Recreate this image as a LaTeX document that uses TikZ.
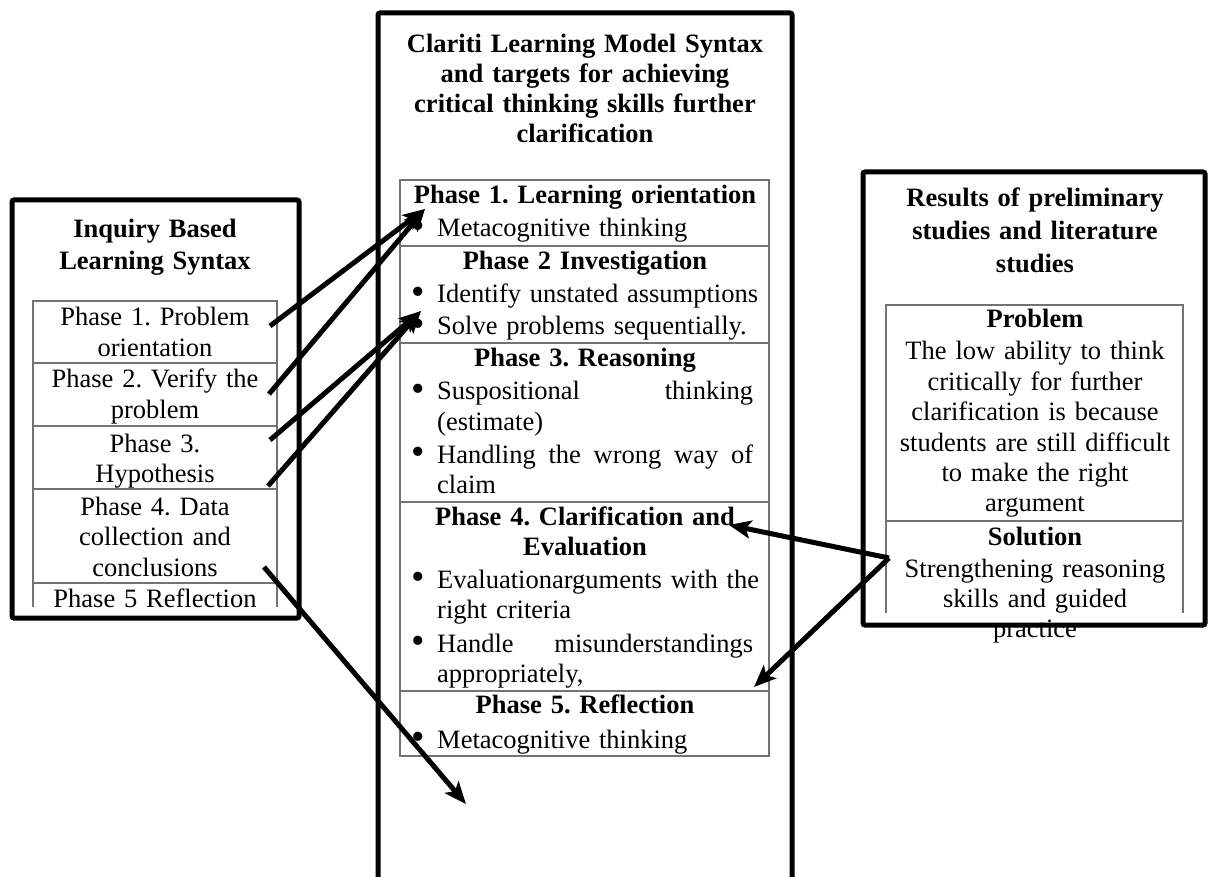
\documentclass[tikz,border=0pt]{standalone}
\usepackage{fontspec}
\usepackage{graphicx}
\setmainfont{Liberation Serif}
\usetikzlibrary{arrows.meta}

\tikzset{
  frame/.style={line width=5pt, rounded corners=2pt},
  rule/.style={draw=black!55, line width=1.3pt},
  txt/.style={inner sep=0pt, anchor=base, align=center, text width=#1,
    font=\fontsize{26.5}{30.5}\selectfont\frenchspacing},
  txt/.default=300pt,
  hd/.style={txt=#1, font=\fontsize{26.5}{30.5}\selectfont\bfseries\frenchspacing},
  hd/.default=360pt,
  entry/.style={inner sep=0pt, anchor=base west, text width=330pt, align=left,
    font=\fontsize{26.5}{30.5}\selectfont\frenchspacing},
  link/.style={line width=5pt, -{Stealth[length=22pt,width=18pt,inset=5pt]}}
}
% bullet hung in the left margin of an item
\newcommand{\bul}{\leavevmode\llap{\raisebox{-1.5pt}{\scalebox{1.45}{\textbullet}}\hspace{12.5pt}}}
% a line spread over the full item width
\newcommand{\fullline}[1]{\hbox to 316pt{#1}}

\begin{document}
\begin{tikzpicture}[x=1pt,y=-1pt]
\useasboundingbox (0,0) rectangle (1211,877);

% ---------- left column: inquiry based learning ----------
\node[hd=260pt, font=\fontsize{26.5}{32}\selectfont\bfseries] (ltitle) at (155,238) {Inquiry Based\\Learning Syntax};
\draw[rule] (33,607) -- (33,301) -- (277,301) -- (277,607);
\foreach \yy in {363,426,489,583} \draw[rule] (33,\yy) -- (277,\yy);
\node[txt=244pt] (l1) at (155,326) {Phase 1. Problem\\orientation};
\node[txt=244pt] (l2) at (155,388) {Phase 2. Verify the\\problem};
\node[txt=244pt] (l3) at (155,452) {Phase 3.\\Hypothesis};
\node[txt=244pt] (l4) at (155,515) {Phase 4. Data\\collection and\\conclusions};
\node[txt=244pt] (l5) at (155,607) {Phase 5 Reflection};

% ---------- middle column: clariti syntax ----------
\node[hd=400pt, font=\fontsize{26.5}{29.7}\selectfont\bfseries] (ctitle) at (585,53)
  {Clariti Learning Model Syntax\\and targets for achieving\\critical thinking skills further\\clarification};
\draw[rule] (400,180) rectangle (769,756);
\foreach \yy in {246,343,502,691} \draw[rule] (400,\yy) -- (769,\yy);
\node[hd] (h1) at (585,204) {Phase 1. Learning orientation};
\node[entry] (i1) at (437,237) {\bul Metacognitive thinking};
\node[hd] (h2) at (585,270) {Phase 2 Investigation};
\node[entry] (i2a) at (437,303) {\bul Identify unstated assumptions};
\node[entry] (i2b) at (437,335) {\bul Solve problems sequentially.};
\node[hd] (h3) at (585,367) {Phase 3. Reasoning};
\node[entry] (i3a) at (437,400) {\bul\fullline{Suspositional\hfill thinking}\\(estimate)};
\node[entry] (i3b) at (437,463) {\bul\fullline{Handling\hfill the\hfill wrong\hfill way\hfill of}\\claim};
\node[hd] (h4) at (585,525) {Phase 4. Clarification and\\Evaluation};
\node[entry] (i4a) at (437,588) {\bul\fullline{Evaluationarguments with the}\\right criteria};
\node[entry] (i4b) at (437,652) {\bul\fullline{Handle\hfill misunderstandings}\\appropriately,};
\node[hd] (h5) at (585,713) {Phase 5. Reflection};
\node[entry] (i5) at (437,748) {\bul Metacognitive thinking};

% ---------- right column: preliminary studies ----------
\node[hd=330pt, font=\fontsize{26.5}{33}\selectfont\bfseries] (rtitle) at (1035,207)
  {Results of preliminary\\studies and literature\\studies};
\draw[rule] (886,613) -- (886,305) -- (1183,305) -- (1183,613);
\draw[rule] (886,521) -- (1183,521);
\node[hd=297pt] (rp) at (1035,328) {Problem};
\node[txt=297pt, font=\fontsize{26.5}{30.4}\selectfont] (rpt) at (1035,360)
  {The low ability to think\\critically for further\\clarification is because\\students are still difficult\\to make the right\\argument};
\node[hd=297pt] (rs) at (1035,545) {Solution};
\node[txt=297pt, font=\fontsize{26.5}{30}\selectfont] (rst) at (1035,577)
  {Strengthening reasoning\\skills and guided\\practice};

% ---------- outer frames ----------
\draw[frame] (12,200) rectangle (299,618);
\draw[frame] (378,880) -- (378,13) -- (792,13) -- (792,880);
\draw[frame] (863,172) rectangle (1205,625);

% ---------- connectors ----------
\coordinate (s1) at (270,326);
\coordinate (s2) at (269,394);
\coordinate (s3) at (270,440);
\coordinate (s4) at (268,486);
\coordinate (s5) at (264,567);
\coordinate (s6) at (889,558);
\coordinate (t12) at (425,209);
\coordinate (t34) at (421,311);
\coordinate (t5) at (466,804);
\coordinate (t6) at (729,525);
\coordinate (t7) at (754,687);

\draw[link] (s1) -- (t12);
\draw[link] (s2) -- (t12);
\draw[link] (s3) -- (t34);
\draw[link] (s4) -- (t34);
\draw[link] (s5) -- (t5);
\draw[link] (s6) -- (t6);
\draw[link] (s6) -- (t7);
\end{tikzpicture}
\end{document}
